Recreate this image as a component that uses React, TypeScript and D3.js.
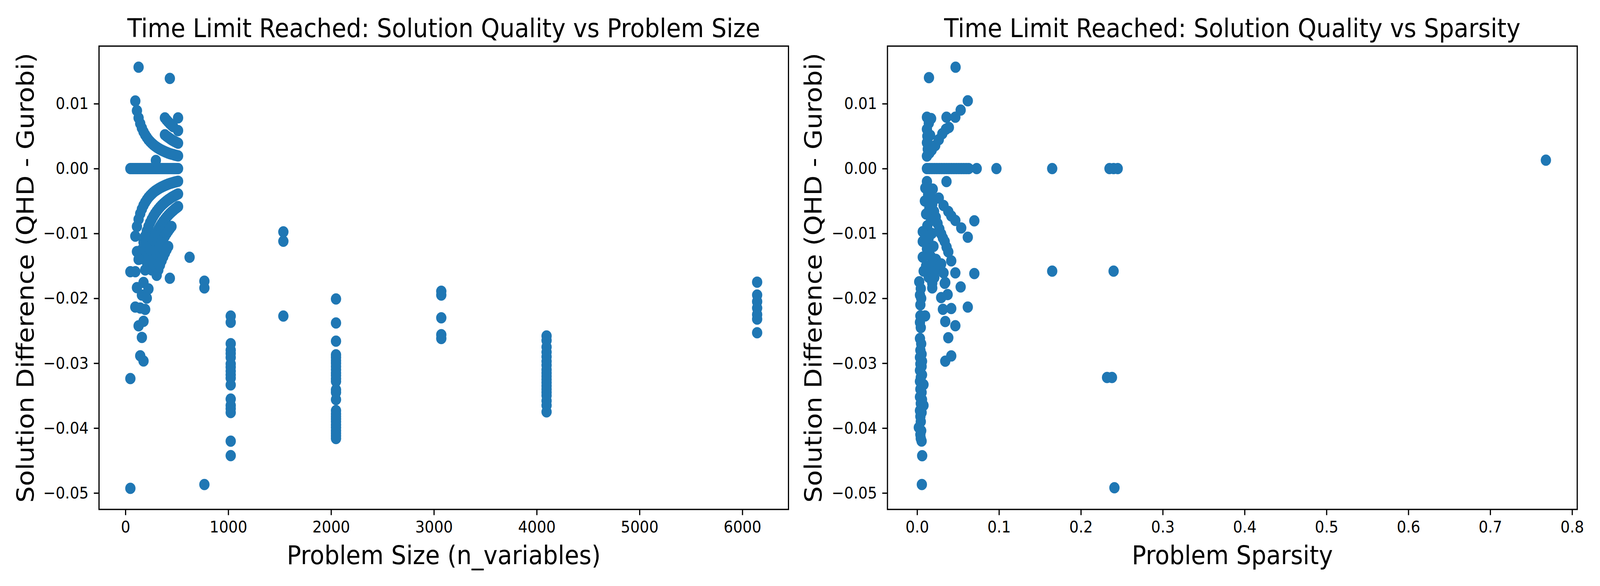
import { useEffect, useRef } from "react";
import * as d3 from "d3";

// [n_variables, diff] pairs
const sizeZeroRow: [number, number][] = [
  [48, 0], [64, 0], [80, 0], [96, 0], [112, 0], [128, 0], [144, 0], [160, 0], [176, 0], [192, 0],
  [208, 0], [224, 0], [240, 0], [256, 0], [272, 0], [288, 0], [304, 0], [320, 0], [336, 0], [352, 0],
  [368, 0], [384, 0], [400, 0], [416, 0], [432, 0], [448, 0], [464, 0], [480, 0], [496, 0], [512, 0],
];

const sizeUpper: [number, number][] = [
  [96, 0.01042], [112, 0.00893], [128, 0.00781], [144, 0.00694], [160, 0.00625], [176, 0.00568],
  [192, 0.00521], [208, 0.00481], [224, 0.00446], [240, 0.00417], [256, 0.00391], [272, 0.00368],
  [288, 0.00347], [304, 0.00329], [320, 0.00313], [336, 0.00298], [352, 0.00284], [368, 0.00272],
  [384, 0.0026], [400, 0.0025], [416, 0.0024], [432, 0.00231], [448, 0.00223], [464, 0.00216],
  [480, 0.00208], [496, 0.00202], [512, 0.00195],
  [384, 0.00521], [400, 0.005], [416, 0.00481], [432, 0.00463], [448, 0.00446], [464, 0.00431],
  [480, 0.00417], [496, 0.00403], [512, 0.00391],
  [384, 0.00781], [400, 0.0075], [416, 0.00721], [432, 0.00694], [448, 0.0067], [464, 0.00647],
  [512, 0.00586], [512, 0.00781],
  [128, 0.01563], [432, 0.01389], [296, 0.00125],
];

const sizeLower: [number, number][] = [
  [96, -0.01042], [112, -0.00893], [128, -0.00781], [144, -0.00694], [160, -0.00625], [176, -0.00568],
  [192, -0.00521], [208, -0.00481], [224, -0.00446], [240, -0.00417], [256, -0.00391], [272, -0.00368],
  [288, -0.00347], [304, -0.00329], [320, -0.00313], [336, -0.00298], [352, -0.00284], [368, -0.00272],
  [384, -0.0026], [400, -0.0025], [416, -0.0024], [432, -0.00231], [448, -0.00223], [464, -0.00216],
  [480, -0.00208], [496, -0.00202], [512, -0.00195],
  [144, -0.01389], [160, -0.0125], [176, -0.01136], [192, -0.01042], [208, -0.00962], [224, -0.00893],
  [240, -0.00833], [256, -0.00781], [272, -0.00735], [288, -0.00694], [304, -0.00658], [320, -0.00625],
  [336, -0.00595], [352, -0.00568], [368, -0.00543], [384, -0.00521], [400, -0.005], [416, -0.00481],
  [432, -0.00463], [448, -0.00446], [464, -0.00431], [480, -0.00417], [496, -0.00403], [512, -0.00391],
  [192, -0.01563], [208, -0.01442], [224, -0.01339], [240, -0.0125], [256, -0.01172], [272, -0.01103],
  [288, -0.01042], [304, -0.00987], [320, -0.00938], [336, -0.00893], [352, -0.00852], [368, -0.00815],
  [384, -0.00781], [400, -0.0075], [416, -0.00721], [432, -0.00694], [448, -0.0067], [464, -0.00647],
  [480, -0.00625], [496, -0.00605], [512, -0.00586],
  [256, -0.01563], [272, -0.01471], [288, -0.01389], [304, -0.01316], [320, -0.0125], [336, -0.0119],
  [352, -0.01136], [368, -0.01087], [384, -0.01042], [400, -0.01], [416, -0.00962], [432, -0.00926],
  [448, -0.00893],
  [304, -0.01645], [320, -0.01563], [336, -0.01488], [352, -0.0142], [368, -0.01359], [384, -0.01302],
  [400, -0.0125], [416, -0.01202],
];

const sizeScatter: [number, number][] = [
  [432, -0.0169], [48, -0.0159], [96, -0.0159], [112, -0.0128], [128, -0.014], [176, -0.01755],
  [112, -0.01835], [224, -0.01855], [160, -0.0195], [208, -0.01996], [96, -0.02135], [144, -0.0215],
  [192, -0.0217], [176, -0.02355], [128, -0.02424], [160, -0.02602], [144, -0.02886], [176, -0.02966],
  [48, -0.03237], [48, -0.04929],
  [624, -0.01367], [768, -0.01735], [768, -0.0184], [768, -0.0487],
  [1536, -0.00976], [1536, -0.0112], [1536, -0.02273],
];

const size1024 = [-0.02273, -0.0237, -0.02699, -0.02799, -0.0285, -0.02911, -0.03011, -0.0306, -0.03122,
  -0.0318, -0.03229, -0.03334, -0.03552, -0.0365, -0.037, -0.0376, -0.04202, -0.04424];
const size2048 = [-0.0201, -0.0238, -0.0266, -0.0287, -0.0291, -0.0296, -0.03, -0.0305, -0.031, -0.0315,
  -0.0319, -0.0324, -0.0328, -0.0341, -0.0345, -0.0356, -0.0373, -0.0378, -0.0382, -0.0386, -0.039,
  -0.0395, -0.0399, -0.0404, -0.0408, -0.0412, -0.0416];
const size3072 = [-0.0189, -0.0195, -0.023, -0.0256, -0.0262];
const size4096 = [-0.0258, -0.0265, -0.0275, -0.0283, -0.029, -0.0297, -0.0303, -0.031, -0.0315, -0.032,
  -0.0325, -0.033, -0.0335, -0.034, -0.0345, -0.035, -0.0358, -0.0365, -0.0375];
const size6144 = [-0.0175, -0.0195, -0.0205, -0.0215, -0.0225, -0.0232, -0.0253];

// [sparsity, diff] pairs
const sparsityZeroRow: [number, number][] = [
  [0.012, 0], [0.015, 0], [0.018, 0], [0.021, 0], [0.024, 0], [0.027, 0], [0.03, 0], [0.033, 0],
  [0.036, 0], [0.039, 0], [0.042, 0], [0.045, 0], [0.048, 0], [0.051, 0], [0.054, 0], [0.057, 0],
  [0.06, 0], [0.063, 0], [0.0728, 0], [0.0969, 0], [0.165, 0], [0.235, 0], [0.24, 0], [0.245, 0],
];

const sparsityUpper: [number, number][] = [
  [0.047, 0.01563], [0.0145, 0.01402], [0.0619, 0.01045], [0.0532, 0.00901], [0.0467, 0.00791],
  [0.0359, 0.00791], [0.012, 0.00791], [0.0171, 0.0077], [0.0143, 0.007], [0.012, 0.00606],
  [0.0159, 0.00514], [0.0125, 0.005], [0.012, 0.00399], [0.0148, 0.0036], [0.013, 0.003], [0.012, 0.00192],
  [0.015, 0.0024], [0.0178, 0.00284], [0.0221, 0.00353], [0.0265, 0.00445], [0.0308, 0.00537],
  [0.0352, 0.00606], [0.0388, 0.00634], [0.768, 0.0013],
];

const sparsityLower: [number, number][] = [
  [0.0359, -0.00201], [0.012, -0.002], [0.0191, -0.00316], [0.0265, -0.00454], [0.0323, -0.00569],
  [0.0381, -0.00661], [0.0417, -0.0073], [0.0467, -0.008], [0.0539, -0.00915], [0.0699, -0.00805],
  [0.0619, -0.01058],
  [0.0164, -0.00431], [0.0185, -0.0055], [0.0207, -0.00661], [0.0228, -0.0075], [0.025, -0.00846],
  [0.0272, -0.0093], [0.0294, -0.01007], [0.0315, -0.0107], [0.0337, -0.01123], [0.036, -0.0121],
  [0.0381, -0.01284], [0.0417, -0.01422],
  [0.01, -0.003], [0.0135, -0.004], [0.0095, -0.005], [0.015, -0.006], [0.011, -0.007], [0.017, -0.008],
  [0.0125, -0.0088], [0.0069, -0.00973], [0.018, -0.01], [0.014, -0.0108], [0.0069, -0.01123],
  [0.02, -0.012], [0.012, -0.01238], [0.0069, -0.01365], [0.0165, -0.0135], [0.023, -0.014],
  [0.0178, -0.01469], [0.011, -0.015], [0.0294, -0.01469], [0.025, -0.0155], [0.0142, -0.01676],
  [0.0185, -0.016], [0.021, -0.0168], [0.0323, -0.01607], [0.0185, -0.01768], [0.008, -0.0158],
];

const sparsityScatter: [number, number][] = [
  [0.0467, -0.01607], [0.0699, -0.01619], [0.0532, -0.01825], [0.0344, -0.01757], [0.0337, -0.01769],
  [0.0185, -0.01839], [0.0294, -0.01989], [0.0373, -0.01942], [0.0619, -0.02134], [0.0315, -0.02169],
  [0.0417, -0.02157], [0.0098, -0.02272], [0.0344, -0.02357], [0.0467, -0.02422], [0.0381, -0.02607],
  [0.0417, -0.02888], [0.0344, -0.02968],
  [0.165, -0.0158], [0.24, -0.0158], [0.232, -0.0322], [0.238, -0.0322], [0.241, -0.0492],
];

// the tall column of large problems sits at near-zero sparsity
const sparsityColumn: [number, number][] = [
  [0.0026, -0.01745], [0.0045, -0.0185], [0.0035, -0.0195], [0.005, -0.02], [0.004, -0.021],
  [0.004, -0.0227], [0.0035, -0.0237], [0.0045, -0.0245], [0.0035, -0.0262], [0.005, -0.027],
  [0.004, -0.028], [0.0055, -0.0286], [0.0035, -0.0291], [0.006, -0.0297], [0.004, -0.0301],
  [0.0055, -0.0305], [0.0035, -0.0311], [0.006, -0.0318], [0.0045, -0.0322], [0.0035, -0.0328],
  [0.0078, -0.0333], [0.004, -0.034], [0.0055, -0.0345], [0.0035, -0.0352], [0.006, -0.0356],
  [0.0045, -0.0362], [0.0078, -0.0365], [0.0035, -0.0373], [0.0055, -0.0376], [0.004, -0.0382],
  [0.0045, -0.039], [0.0021, -0.0399], [0.005, -0.0404], [0.004, -0.041], [0.0045, -0.0416],
  [0.0055, -0.042], [0.0062, -0.04425], [0.0058, -0.0487],
];

const sizeTicks = [0, 1000, 2000, 3000, 4000, 5000, 6000];
const sparsityTicks = [0, 0.1, 0.2, 0.3, 0.4, 0.5, 0.6, 0.7, 0.8];
const diffTicks = [-0.05, -0.04, -0.03, -0.02, -0.01, 0, 0.01];

const TITLE_LEFT = "Time Limit Reached: Solution Quality vs Problem Size";
const TITLE_RIGHT = "Time Limit Reached: Solution Quality vs Sparsity";
const XLABEL_LEFT = "Problem Size (n_variables)";
const XLABEL_RIGHT = "Problem Sparsity";
const YLABEL = "Solution Difference (QHD - Gurobi)";

const W = 4500;
const H = 1500;

const column = (n: number, vals: number[]): [number, number][] => vals.map(v => [n, v]);

const pad5 = (ext: [number, number]): [number, number] => {
  const m = (ext[1] - ext[0]) * 0.05;
  return [ext[0] - m, ext[1] + m];
};

export default function App() {
  const svgRef = useRef<SVGSVGElement>(null);

  useEffect(() => {
    document.body.style.margin = "0";
    document.body.style.overflow = "hidden";
    document.documentElement.style.overflow = "hidden";
    if (!svgRef.current) return;
    const svg = d3.select(svgRef.current);
    svg.selectAll("*").remove();

    const font = "DejaVu Sans, Verdana, sans-serif";
    const lw = 3.33; // 0.8pt at 300 dpi
    const tick = 14.6;

    const leftData: [number, number][] = [
      ...sizeZeroRow, ...sizeUpper, ...sizeLower, ...sizeScatter,
      ...column(1024, size1024), ...column(2048, size2048), ...column(3072, size3072),
      ...column(4096, size4096), ...column(6144, size6144),
    ];
    const rightData: [number, number][] = [
      ...sparsityZeroRow, ...sparsityUpper, ...sparsityLower, ...sparsityScatter, ...sparsityColumn,
    ];

    const yExt = d3.extent([...leftData, ...rightData], d => d[1]) as [number, number];

    const panels = [
      {
        data: leftData, box: { l: 278.5, r: 2217.6, t: 118, b: 1304 }, ticks: sizeTicks,
        fmt: d3.format("d"), title: TITLE_LEFT, xlabel: XLABEL_LEFT, ylabelX: 95,
      },
      {
        data: rightData, box: { l: 2496, r: 4436, t: 118, b: 1304 }, ticks: sparsityTicks,
        fmt: d3.format(".1f"), title: TITLE_RIGHT, xlabel: XLABEL_RIGHT, ylabelX: 2310,
      },
    ];

    panels.forEach(p => {
      const { l, r, t, b } = p.box;
      const x = d3.scaleLinear()
        .domain(pad5(d3.extent(p.data, d => d[0]) as [number, number]))
        .range([l, r]);
      const y = d3.scaleLinear().domain(pad5(yExt)).range([b, t]);

      const g = svg.append("g");

      // Points
      g.append("g")
        .selectAll("circle")
        .data(p.data)
        .enter().append("circle")
        .attr("cx", d => x(d[0]))
        .attr("cy", d => y(d[1]))
        .attr("r", 14.5)
        .attr("fill", "#1f77b4");

      // Axes
      const xAxis = g.append("g")
        .attr("transform", `translate(0,${b})`)
        .call(d3.axisBottom(x).tickValues(p.ticks).tickFormat(d => p.fmt(d as number))
          .tickSize(tick).tickPadding(tick));
      const yAxis = g.append("g")
        .attr("transform", `translate(${l},0)`)
        .call(d3.axisLeft(y).tickValues(diffTicks).tickFormat(d => d3.format(".2f")(d as number))
          .tickSize(tick).tickPadding(tick));

      [xAxis, yAxis].forEach(a => {
        a.select(".domain").remove();
        a.selectAll("line").attr("stroke", "#000").attr("stroke-width", lw);
        a.selectAll("text")
          .attr("fill", "#000")
          .attr("font-family", font)
          .attr("font-size", 41.67);
      });

      // Frame
      g.append("rect")
        .attr("x", l).attr("y", t)
        .attr("width", r - l).attr("height", b - t)
        .attr("fill", "none")
        .attr("stroke", "#000")
        .attr("stroke-width", lw);

      // Labels
      g.append("text")
        .attr("x", (l + r) / 2).attr("y", 95)
        .attr("text-anchor", "middle")
        .attr("font-family", font).attr("font-size", 66.67)
        .text(p.title);

      g.append("text")
        .attr("x", (l + r) / 2).attr("y", 1444)
        .attr("text-anchor", "middle")
        .attr("font-family", font).attr("font-size", 66.67)
        .text(p.xlabel);

      g.append("text")
        .attr("transform", `translate(${p.ylabelX},${(t + b) / 2}) rotate(-90)`)
        .attr("text-anchor", "middle")
        .attr("font-family", font).attr("font-size", 66.67)
        .text(YLABEL);
    });
  }, []);

  return (
    <div style={{ width: "100vw", height: "100vh", background: "#fff", overflow: "hidden" }}>
      <svg
        ref={svgRef}
        viewBox={`0 0 ${W} ${H}`}
        preserveAspectRatio="none"
        style={{ display: "block", width: "100vw", height: "100vh", background: "#fff" }}
      />
    </div>
  );
}
